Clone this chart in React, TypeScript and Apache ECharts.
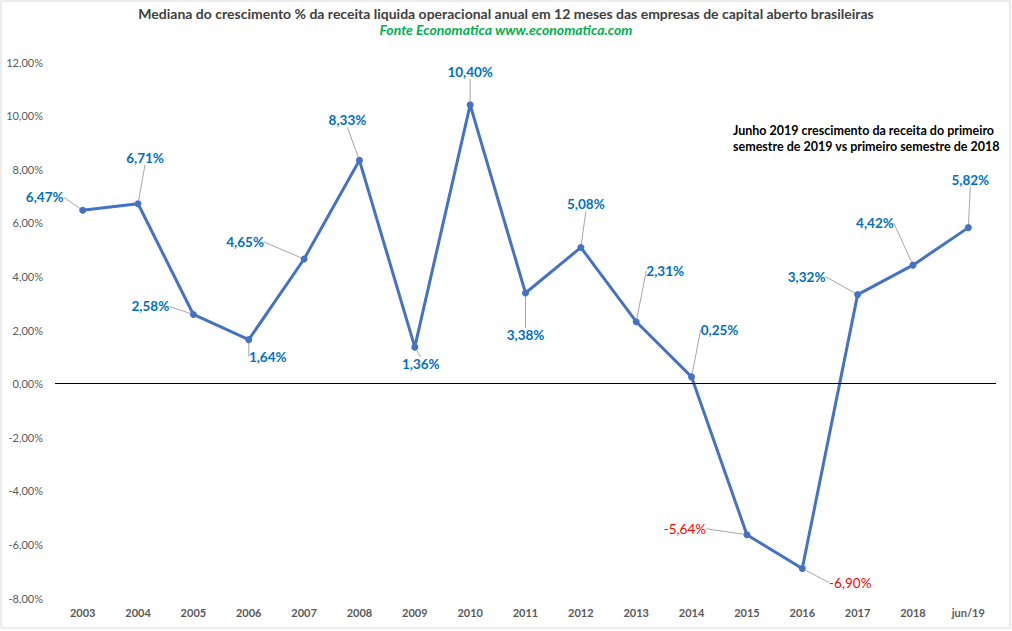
import React, { useEffect, useRef } from "react";
import * as echarts from "echarts";

const categories = ["2003","2004","2005","2006","2007","2008","2009","2010","2011","2012","2013","2014","2015","2016","2017","2018","jun/19"];
const values = [6.47, 6.71, 2.58, 1.64, 4.65, 8.33, 1.36, 10.40, 3.38, 5.08, 2.31, 0.25, -5.64, -6.90, 3.32, 4.42, 5.82];
const labelOffsets: [number, number][] = [
  [-38, -13], [7, -46], [-43, -8], [19, 17], [-59, -17], [-12, -40], [6, 17], [0, -33],
  [0, 42], [5, -43], [29, -51], [28, -47], [-62, -6], [48, 14], [-51, -18], [-38, -42], [2, -48],
];
const yMin = -8;
const yMax = 12;
const yStep = 2;
const titleText = "Mediana do crescimento % da receita liquida operacional anual em 12 meses das empresas de capital aberto brasileiras";
const subtitleText = "Fonte Economatica www.economatica.com";
const noteLines = ["Junho 2019 crescimento da receita do primeiro", "semestre de 2019 vs primeiro semestre de 2018"];

const FONT = "Lato, 'Open Sans', sans-serif";
const fmt = (v: number) => v.toFixed(2).replace(".", ",") + "%";

export default function App() {
  const ref = useRef<HTMLDivElement>(null);
  useEffect(() => {
    if (!ref.current) return;
    const chart = echarts.init(ref.current, undefined, { renderer: "svg" });
    chart.setOption({
      animation: false,
      backgroundColor: "#ffffff",
      textStyle: { fontFamily: FONT },
      title: {
        text: titleText,
        subtext: subtitleText,
        left: "center",
        top: 1,
        itemGap: 2,
        textStyle: { fontFamily: FONT, fontSize: 14, fontWeight: "bold", color: "#404040" },
        subtextStyle: { fontFamily: FONT, fontSize: 14, fontWeight: "bold", fontStyle: "italic", color: "#00B050" },
      },
      graphic: [
        {
          type: "rect",
          shape: { x: 1, y: 1, width: 1009, height: 627 },
          style: { fill: "none", stroke: "#D9D9D9", lineWidth: 1 },
          silent: true,
        },
        {
          type: "text",
          left: 733,
          top: 122,
          style: {
            text: noteLines.join("\n"),
            font: `bold 12.5px ${FONT}`,
            fill: "#000000",
            lineHeight: 16,
          },
        },
      ],
      grid: { left: 55, right: 16, top: 62, bottom: 33, containLabel: false },
      xAxis: {
        type: "category",
        data: categories,
        boundaryGap: true,
        axisLine: { show: false },
        axisTick: { show: false },
        axisLabel: { color: "#595959", fontSize: 11, fontWeight: "bold", margin: 9, fontFamily: FONT },
      },
      yAxis: {
        type: "value",
        min: yMin,
        max: yMax,
        interval: yStep,
        axisLine: { show: false },
        axisTick: { show: false },
        splitLine: { show: false },
        axisLabel: { color: "#595959", fontSize: 11, margin: 12, fontFamily: FONT, formatter: (v: number) => fmt(v) },
      },
      series: [
        {
          type: "line",
          data: values.map((v) => ({
            value: v,
            label: {
              color: v < 0 ? "#FF0000" : "#0070C0",
              fontWeight: v < 0 ? "normal" : "bold",
            },
          })),
          symbol: "circle",
          symbolSize: 7,
          lineStyle: { color: "#4472C4", width: 3 },
          itemStyle: { color: "#4472C4" },
          label: {
            show: true,
            position: "inside",
            formatter: (p: any) => fmt(p.value),
            fontFamily: FONT,
            fontSize: 13.5,
          },
          labelLine: { show: true, lineStyle: { color: "#A6A6A6", width: 1 } },
          labelLayout: (p: any) => ({ dx: labelOffsets[p.dataIndex][0], dy: labelOffsets[p.dataIndex][1] }),
          markLine: {
            silent: true,
            symbol: "none",
            label: { show: false },
            lineStyle: { color: "#000000", width: 1, type: "solid" },
            data: [{ yAxis: 0 }],
          },
        },
      ],
    });
    return () => chart.dispose();
  }, []);
  return <div ref={ref} style={{ position: "fixed", left: 0, top: 0, width: 1012, height: 631 }} />;
}
